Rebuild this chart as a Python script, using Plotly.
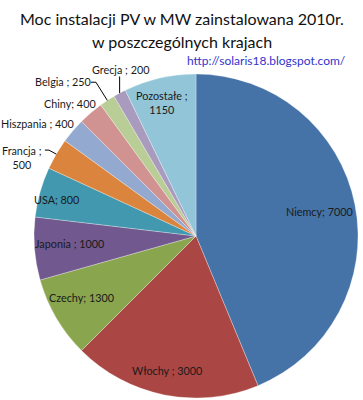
import math
import plotly.graph_objects as go

countries = ["Niemcy", "Włochy", "Czechy", "Japonia", "USA", "Francja",
             "Hiszpania", "Chiny", "Belgia", "Grecja", "Pozostałe"]
values_mw = [7000, 3000, 1300, 1000, 800, 500, 400, 400, 250, 200, 1150]
label_texts = ["Niemcy; 7000", "Włochy ; 3000", "Czechy; 1300", "Japonia ; 1000",
               "USA; 800", "Francja ;<br>500", "Hiszpania ; 400", "Chiny; 400",
               "Belgia ; 250", "Grecja ; 200", "Pozostałe ;<br>1150"]
title_lines = ["Moc instalacji PV w MW zainstalowana 2010r.", "w poszczególnych krajach"]
source_url = "http://solaris18.blogspot.com/"

colors = ["#4572A7", "#AA4643", "#89A54E", "#71588F", "#4198AF", "#DB843D",
          "#93A9CF", "#D19392", "#B9CD96", "#A99BBD", "#92C5D8"]

W, H = 363, 400
CX, CY, R = 196, 236, 162
# label placement: radial fraction and angular offset (degrees)
lab_r = [0.78, 0.85, 0.80, 0.78, 0.89, 1.18, 1.20, 1.13, 1.26, 1.13, 0.85]
lab_dt = [0, 1, 2, 1, -1, -6, -5, -3, -7.5, 3.6, -1.4]
leader = [False]*5 + [True, False, False, True, True, False]

fig = go.Figure(go.Pie(
    labels=countries, values=values_mw, sort=False, direction="clockwise",
    rotation=0, textinfo="none", hoverinfo="label+value",
    marker=dict(colors=colors, line=dict(color="rgba(255,255,255,0.5)", width=0.6)),
    domain=dict(x=[(CX - R) / W, (CX + R) / W], y=[1 - (CY + R) / H, 1 - (CY - R) / H]),
    showlegend=False,
))

def px(x, y):
    return x / W, 1 - y / H

total = sum(values_mw)
cum = 0
annotations = []
shapes = []
for i, v in enumerate(values_mw):
    mid = (cum + v / 2) / total * 360
    cum += v
    th = math.radians(mid + lab_dt[i])
    lx = CX + R * lab_r[i] * math.sin(th)
    ly = CY - R * lab_r[i] * math.cos(th)
    ax, ay = px(lx, ly)
    annotations.append(dict(x=ax, y=ay, xref="paper", yref="paper", text=label_texts[i],
                            showarrow=False, font=dict(family="Lato", size=10.8, color="#1a1a1a"),
                            xanchor="center", yanchor="middle"))
    if leader[i]:
        thm = math.radians(mid)
        ex = CX + R * math.sin(thm)
        ey = CY - R * math.cos(thm)
        if countries[i] == "Grecja":
            pts = [(ex, ly + 7), (ex, ey)]
        elif countries[i] == "Belgia":
            pts = [(lx + 28, ly + 1), (lx + 33, ly + 1), (ex, ey)]
        else:
            pts = [(lx + 23, ly - 7), (lx + 27, ly - 7), (ex, ey)]
        for (x0, y0), (x1, y1) in zip(pts[:-1], pts[1:]):
            a0, b0 = px(x0, y0)
            a1, b1 = px(x1, y1)
            shapes.append(dict(type="line", xref="paper", yref="paper", x0=a0, y0=b0,
                               x1=a1, y1=b1, line=dict(color="#000000", width=1)))

for line, yy in zip(title_lines, [18, 41]):
    tx, ty = px(182, yy)
    annotations.append(dict(x=tx, y=ty, xref="paper", yref="paper", text=line, showarrow=False,
                            font=dict(family="Lato", size=16, color="#111111"),
                            xanchor="center", yanchor="middle"))

ux, uy = px(266, 60)
annotations.append(dict(x=ux, y=uy, xref="paper", yref="paper",
                        text=source_url, showarrow=False,
                        font=dict(family="Lato", size=12, color="#3333CC"),
                        xanchor="center", yanchor="middle"))

fig.update_layout(
    width=W, height=H, margin=dict(l=0, r=0, t=0, b=0),
    paper_bgcolor="white", plot_bgcolor="white",
    annotations=annotations, shapes=shapes,
)
fig.write_html("out.html", config={"displayModeBar": False},
               post_script="document.body.style.margin='0';document.body.style.overflow='hidden';")
